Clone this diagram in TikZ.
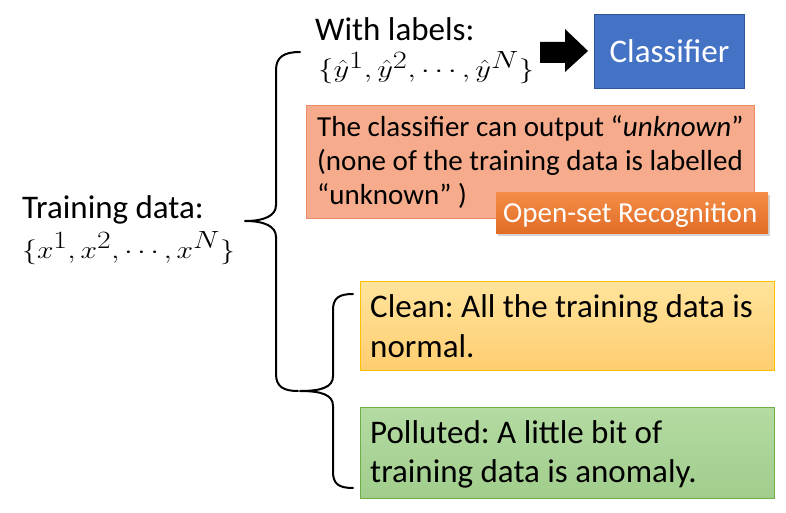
\documentclass[tikz,border=0pt]{standalone}
\usepackage{fontspec}
\usepackage{graphicx}
\setmainfont{Carlito}
\usetikzlibrary{shadows}
\definecolor{clsfill}{RGB}{68,114,196}
\definecolor{clsdraw}{RGB}{47,85,151}
\definecolor{salfill}{RGB}{246,172,140}
\definecolor{saldraw}{RGB}{236,140,100}
\definecolor{ostop}{RGB}{243,142,72}
\definecolor{osbot}{RGB}{226,108,38}
\definecolor{cltop}{RGB}{255,228,156}
\definecolor{clbot}{RGB}{255,205,112}
\definecolor{cldraw}{RGB}{255,192,0}
\definecolor{potop}{RGB}{180,219,162}
\definecolor{pobot}{RGB}{160,205,140}
\definecolor{podraw}{RGB}{112,173,71}
\frenchspacing
\tikzset{
  txt/.style={anchor=base west, inner sep=0pt, font=\fontsize{33}{38}\selectfont},
  stxt/.style={anchor=base west, inner sep=0pt, font=\fontsize{29}{34}\selectfont},
  bracestyle/.style={line width=2pt, line cap=round, line join=round}
}
\begin{document}
\begin{tikzpicture}[x=1pt,y=-1pt]
\useasboundingbox (0,0) rectangle (786,513);
% boxes
\node[draw=clsdraw, fill=clsfill, line width=1pt, minimum width=150pt, minimum height=74pt, inner sep=0pt, anchor=north west, text=white, font=\fontsize{33}{38}\selectfont] (cls) at (594,14) {Classifier};
\node[draw=saldraw, fill=salfill, line width=0.8pt, minimum width=448pt, minimum height=113pt, inner sep=0pt, anchor=north west] (sal) at (306,105) {};
\node[top color=ostop, bottom color=osbot, minimum width=272pt, minimum height=41pt, inner sep=0pt, anchor=north west, drop shadow={opacity=0.35, shadow xshift=2pt, shadow yshift=-3pt}] (os) at (496,192) {};
\node[text=white, anchor=base west, inner sep=0pt, font=\fontsize{29}{33}\selectfont] (ostxt) at (503,222) {Open-set Recognition};
\node[draw=cldraw, top color=cltop, bottom color=clbot, line width=0.8pt, minimum width=414pt, minimum height=89pt, inner sep=0pt, anchor=north west] (clean) at (360,281) {};
\node[draw=podraw, top color=potop, bottom color=pobot, line width=0.8pt, minimum width=414pt, minimum height=91pt, inner sep=0pt, anchor=north west] (poll) at (360,407) {};
% texts
\node[txt] (t1) at (22,218) {Training data:};
\node[txt] (t2) at (22,258) {\scalebox{1.19}[1]{$\{x^1,x^2,\cdots,x^N\}$}};
\node[txt] (w1) at (315,41) {With labels:};
\node[txt] (w2) at (318,78) {\scalebox{1.23}[1]{$\{\hat{y}^1,\hat{y}^2,\cdots,\hat{y}^N\}$}};
\node[stxt] (s1) at (317,137) {The classifier can output “\emph{unknown}”};
\node[stxt] (s2) at (317,171) {(none of the training data is labelled};
\node[stxt] (s3) at (317,204) {“unknown” )};
\node[txt] (c1) at (370,317) {Clean: All the training data is};
\node[txt] (c2) at (370,357) {normal.};
\node[txt] (p1) at (370,443) {Polluted: A little bit of};
\node[txt] (p2) at (370,482) {training data is anomaly.};
% arrow
\fill (540,42) -- (565,42) -- (565,29) -- (588,51) -- (565,72) -- (565,63) -- (540,63) -- cycle;
% big brace
\coordinate (b1top) at (300,52);
\coordinate (b1mid) at (245,221);
\coordinate (b1bot) at (298,391);
\draw[bracestyle] (b1top) .. controls (284,52) and (276,57) .. (276,70)
  -- (276,205) .. controls (276,216) and (264,221) .. (b1mid)
  .. controls (264,221) and (276,226) .. (276,237)
  -- (276,374) .. controls (276,387) and (284,391) .. (b1bot);
% small brace
\coordinate (b2top) at (353,294);
\coordinate (b2mid) at (300,391);
\coordinate (b2bot) at (353,488);
\draw[bracestyle] (b2top) .. controls (339,294) and (333,298) .. (333,310)
  -- (333,376) .. controls (333,387) and (322,391) .. (b2mid)
  .. controls (322,391) and (333,395) .. (333,406)
  -- (333,472) .. controls (333,484) and (339,488) .. (b2bot);
\end{tikzpicture}
\end{document}
